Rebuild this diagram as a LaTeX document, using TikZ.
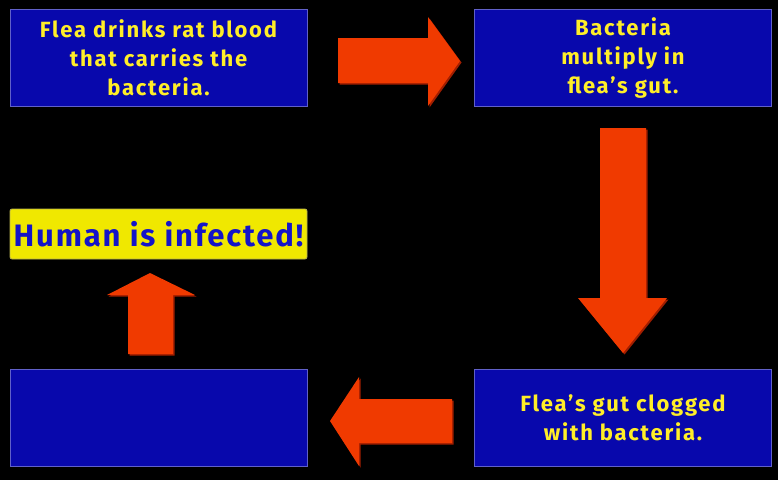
\documentclass[tikz,border=0pt]{standalone}
\usepackage{fontspec}
\setmainfont{Fira Sans}
\usetikzlibrary{positioning}

\definecolor{slideblue}{RGB}{8,8,172}
\definecolor{boxedge}{RGB}{96,96,200}
\definecolor{fleayellow}{RGB}{255,238,40}
\definecolor{arrowred}{RGB}{240,58,0}
\definecolor{arrowshade}{RGB}{160,30,0}
\definecolor{alertyellow}{RGB}{240,232,0}
\definecolor{alertblue}{RGB}{20,20,200}

\begin{document}
\begin{tikzpicture}[
    x=1pt, y=-1pt,
    % Styling for the cycle
    every node/.style={
        align=center,
        inner sep=0pt,
        outer sep=0pt
    },
    % Blue stage boxes
    stage/.style={
        draw=boxedge,
        line width=0.8pt,
        fill=slideblue,
        minimum width=297pt,
        minimum height=97pt,
        text=fleayellow,
        font=\fontsize{22}{29}\selectfont\bfseries\addfontfeatures{LetterSpace=8}
    },
    % Yellow result box
    result/.style={
        draw=boxedge!40!alertyellow,
        line width=0.8pt,
        fill=alertyellow,
        rounded corners=2pt,
        minimum width=297pt,
        minimum height=50pt,
        text=alertblue,
        font=\fontsize{31}{34}\selectfont\bfseries\addfontfeatures{LetterSpace=6}
    },
    % Big block arrows
    block arrow/.style={
        fill=arrowred
    },
    block shade/.style={
        fill=arrowshade
    }
]
    % Background
    \fill[black] (0,0) rectangle (778,480);
    \useasboundingbox (0,0) rectangle (778,480);

    % Stages
    \node[stage] (drink) at (158.5,58) {Flea drinks rat blood\\that carries the\\bacteria.};
    \node[stage] (multiply) at (623,58) {Bacteria\\multiply in\\flea's gut.};
    \node[stage] (clog) at (623,418) {Flea's gut clogged\\with bacteria.};
    \node[stage] (bite) at (158.5,418) {};

    % Result
    \node[result] (infected) at (158.5,234) {Human is infected!};

    % Arrow shadows
    \fill[block shade] (339.5,39.5) -- (429.5,39.5) -- (429.5,18.5) -- (461.5,62.5) -- (429.5,107.5) -- (429.5,84.5) -- (339.5,84.5) -- cycle;
    \fill[block shade] (601.5,129.5) -- (647.5,129.5) -- (647.5,299.5) -- (668.5,299.5) -- (624.5,354.5) -- (579.5,299.5) -- (601.5,299.5) -- cycle;
    \fill[block shade] (453.5,400.5) -- (360.5,400.5) -- (360.5,378.5) -- (331.5,422.5) -- (360.5,467.5) -- (360.5,444.5) -- (453.5,444.5) -- cycle;
    \fill[block shade] (129.5,355.5) -- (129.5,296.5) -- (108.5,296.5) -- (151.5,274.5) -- (196.5,296.5) -- (174.5,296.5) -- (174.5,355.5) -- cycle;

    % Arrows
    \fill[block arrow] (338,38) -- (428,38) -- (428,17) -- (460,61) -- (428,106) -- (428,83) -- (338,83) -- cycle;
    \fill[block arrow] (600,128) -- (646,128) -- (646,298) -- (667,298) -- (623,353) -- (578,298) -- (600,298) -- cycle;
    \fill[block arrow] (452,399) -- (359,399) -- (359,377) -- (330,421) -- (359,466) -- (359,443) -- (452,443) -- cycle;
    \fill[block arrow] (128,354) -- (128,295) -- (107,295) -- (150,273) -- (195,295) -- (173,295) -- (173,354) -- cycle;
\end{tikzpicture}
\end{document}
